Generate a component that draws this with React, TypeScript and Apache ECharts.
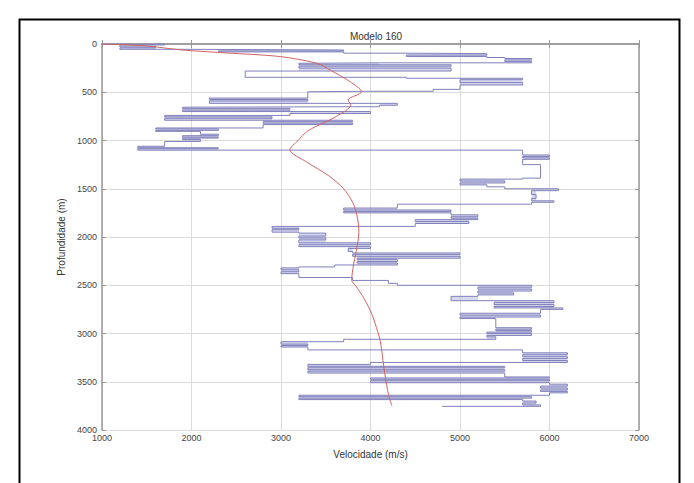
import React, { useEffect, useRef } from "react";
import * as echarts from "echarts";

const chartTitle = "Modelo 160";
const xAxisName = "Velocidade (m/s)";
const yAxisName = "Profundidade (m)";

// Blocky velocity log: layer top depth (m) and velocity (m/s)
const blueDepths = [
  0, 10, 30, 40, 55, 62, 72, 82, 95, 100, 115, 130, 140, 150, 165, 180, 195, 200, 215, 230,
  250, 280, 345, 355, 370, 400, 425, 470, 490, 495, 560, 575, 590, 615, 635, 650, 655, 670, 685, 700,
  720, 740, 755, 770, 790, 805, 820, 835, 870, 880, 895, 905, 935, 950, 965, 975, 990, 1010, 1060, 1075,
  1085, 1100, 1150, 1165, 1180, 1195, 1250, 1390, 1400, 1420, 1440, 1460, 1480, 1500, 1520, 1560, 1600, 1625, 1640, 1660,
  1700, 1720, 1735, 1750, 1770, 1790, 1805, 1820, 1840, 1860, 1890, 1910, 1925, 1950, 1960, 1990, 2010, 2030, 2060, 2080,
  2100, 2120, 2150, 2165, 2180, 2200, 2220, 2235, 2255, 2270, 2290, 2310, 2320, 2340, 2360, 2380, 2420, 2450, 2480, 2500,
  2520, 2540, 2560, 2580, 2600, 2615, 2660, 2680, 2700, 2720, 2735, 2750, 2790, 2810, 2830, 2845, 2940, 2955, 2970, 2985,
  3000, 3020, 3035, 3060, 3085, 3110, 3125, 3140, 3170, 3200, 3220, 3240, 3260, 3280, 3300, 3320, 3340, 3355, 3375, 3390,
  3410, 3450, 3460, 3475, 3490, 3510, 3525, 3545, 3565, 3585, 3600, 3615, 3640, 3655, 3670, 3685, 3700, 3720, 3740, 3755,
];
const blueVelocities = [
  1700, 1200, 1600, 1200, 1900, 3700, 2300, 3700, 4400, 5300, 4400, 5300, 5500, 5800, 5500, 5800, 4100, 3200, 4900, 3200,
  4900, 2600, 4400, 5700, 5000, 5700, 5000, 4700, 3900, 3300, 2200, 3300, 2200, 4300, 4100, 3800, 1900, 3100, 1900, 4000,
  3100, 1700, 2900, 1700, 3800, 2800, 3800, 2800, 1600, 2300, 1600, 2100, 2300, 1900, 2300, 1900, 2100, 1700, 1400, 2300,
  1400, 5700, 6000, 5700, 6000, 5700, 5900, 5700, 5000, 5500, 5000, 5300, 5500, 6100, 5800, 5850, 5800, 6050, 5800, 4300,
  3700, 4900, 3700, 4900, 5200, 4900, 5200, 4500, 5100, 4500, 2900, 3200, 2900, 3200, 3500, 3200, 3500, 3200, 4000, 3200,
  4000, 3750, 3800, 5000, 3800, 5000, 3850, 4300, 3850, 4300, 3600, 3200, 3000, 3200, 3000, 3200, 3800, 4200, 4300, 5800,
  5200, 5800, 5200, 5600, 5200, 4900, 6050, 5380, 6050, 5380, 6150, 5900, 5000, 5900, 5000, 5400, 5800, 5400, 5800, 5300,
  5800, 5300, 5400, 3700, 3000, 3300, 3000, 3300, 5700, 6200, 5700, 6200, 5700, 6200, 4000, 3300, 5500, 3300, 5500, 3300,
  5500, 6000, 4000, 6000, 4000, 6000, 6200, 5900, 6200, 5900, 6200, 6000, 3200, 5800, 3200, 5700, 5850, 5700, 5900, 4800,
];

// Smoothed velocity trend
const redDepths = [
  0, 20, 60, 95, 130, 200, 270, 390, 495, 580, 630, 750, 820, 900, 1000, 1095, 1230, 1370, 1500, 1640,
  1780, 1950, 2150, 2290, 2450, 2500, 2640, 2810, 2980, 3080, 3280, 3420, 3630, 3750,
];
const redVelocities = [
  1000, 1500, 1870, 2430, 2990, 3400, 3550, 3770, 3900, 3750, 3780, 3620, 3470, 3300, 3190, 3100, 3300, 3540, 3700, 3800,
  3850, 3870, 3840, 3810, 3790, 3830, 3930, 4020, 4080, 4110, 4140, 4160, 4200, 4240,
];

const FONT = "'Liberation Sans', Arial, sans-serif";

function buildStep(): number[][] {
  const pts: number[][] = [[1000, 0]];
  for (let i = 0; i < blueDepths.length; i++) {
    const top = blueDepths[i];
    const bottom = i + 1 < blueDepths.length ? blueDepths[i + 1] : top;
    pts.push([blueVelocities[i], top]);
    pts.push([blueVelocities[i], bottom]);
  }
  return pts;
}

// Thin spikes of the log (both neighbours on the same side) are shaded, as in the print
function buildSpikes(): number[][] {
  const out: number[][] = [];
  for (let i = 1; i < blueDepths.length - 1; i++) {
    const v = blueVelocities[i];
    const a = blueVelocities[i - 1];
    const b = blueVelocities[i + 1];
    const top = blueDepths[i];
    const bottom = blueDepths[i + 1];
    if (bottom - top > 45) continue;
    if (a < v && b < v) out.push([Math.max(a, b), v, top, bottom]);
    else if (a > v && b > v) out.push([v, Math.min(a, b), top, bottom]);
  }
  return out;
}

export default function App() {
  const ref = useRef<HTMLDivElement>(null);
  useEffect(() => {
    document.body.style.margin = "0";
    if (!ref.current) return;
    const chart = echarts.init(ref.current, null, { renderer: "svg" });
    const gridColor = "#dcdcdc";
    const axisColor = "#9a9a9a";
    const plain = (v: number) => String(v);
    const baseX = {
      type: "value" as const,
      min: 1000,
      max: 7000,
      interval: 1000,
      splitLine: { show: false },
      axisLine: { show: true, lineStyle: { color: axisColor, width: 1.5 } },
      axisTick: { show: true, inside: true, length: 4, lineStyle: { color: axisColor } },
    };
    const baseY = {
      type: "value" as const,
      min: 0,
      max: 4000,
      interval: 500,
      inverse: true,
      splitLine: { show: false },
      axisLine: { show: true, lineStyle: { color: axisColor, width: 1.5 } },
      axisTick: { show: true, inside: true, length: 4, lineStyle: { color: axisColor } },
    };
    chart.setOption({
      animation: false,
      backgroundColor: "#ffffff",
      title: {
        text: chartTitle,
        left: 371,
        top: 26,
        textAlign: "center",
        textStyle: { fontFamily: FONT, fontSize: 10, fontWeight: "normal", color: "#333" },
      },
      grid: { left: 102, right: 55, top: 44, bottom: 53, containLabel: false },
      xAxis: [
        {
          ...baseX,
          position: "bottom",
          name: xAxisName,
          nameLocation: "middle",
          nameGap: 19,
          nameTextStyle: { fontFamily: FONT, fontSize: 10, color: "#333" },
          splitLine: { show: true, lineStyle: { color: gridColor, width: 1 } },
          axisLabel: { fontFamily: FONT, fontSize: 9, color: "#444", margin: 3, formatter: plain },
        },
        { ...baseX, position: "top", axisLabel: { show: false } },
      ],
      yAxis: [
        {
          ...baseY,
          position: "left",
          name: yAxisName,
          nameLocation: "middle",
          nameGap: 31,
          nameTextStyle: { fontFamily: FONT, fontSize: 10, color: "#333" },
          splitLine: { show: true, lineStyle: { color: gridColor, width: 1 } },
          axisLabel: { fontFamily: FONT, fontSize: 9, color: "#444", margin: 5, formatter: plain },
        },
        { ...baseY, position: "right", axisLabel: { show: false } },
      ],
      graphic: [
        {
          type: "rect",
          left: 17,
          top: 17,
          shape: { width: 660, height: 500 },
          style: { fill: "none", stroke: "#000", lineWidth: 2 },
          silent: true,
        },
      ],
      series: [
        {
          type: "custom",
          xAxisIndex: 0,
          yAxisIndex: 0,
          data: buildSpikes(),
          encode: { x: [0, 1], y: [2, 3] },
          renderItem: (params: any, api: any) => {
            const p1 = api.coord([api.value(0), api.value(2)]);
            const p2 = api.coord([api.value(1), api.value(3)]);
            return {
              type: "rect",
              shape: {
                x: Math.min(p1[0], p2[0]),
                y: Math.min(p1[1], p2[1]),
                width: Math.abs(p2[0] - p1[0]),
                height: Math.abs(p2[1] - p1[1]),
              },
              style: { fill: "rgba(175,180,225,0.5)" },
            };
          },
          z: 1,
        },
        {
          type: "line",
          xAxisIndex: 0,
          yAxisIndex: 0,
          data: buildStep(),
          showSymbol: false,
          lineStyle: { color: "#8080ba", width: 1 },
          z: 2,
        },
        {
          type: "line",
          xAxisIndex: 0,
          yAxisIndex: 0,
          data: redDepths.map((d, i) => [redVelocities[i], d]),
          showSymbol: false,
          smooth: 0.3,
          lineStyle: { color: "#d06464", width: 1 },
          z: 3,
        },
      ],
    });
    return () => chart.dispose();
  }, []);
  return (
    <div
      ref={ref}
      style={{ position: "fixed", left: 0, top: 0, width: 694, height: 483 }}
    />
  );
}
